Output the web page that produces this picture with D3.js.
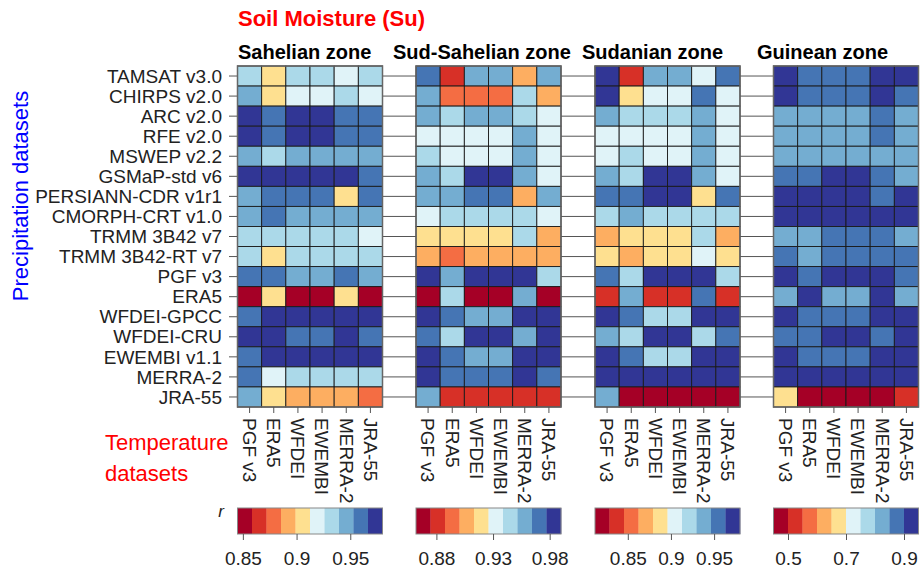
<!DOCTYPE html>
<html>
<head>
<meta charset="utf-8">
<script src="https://cdn.jsdelivr.net/npm/d3@7"></script>
<style>
  body { margin: 0; background: #fff; }
  svg { font-family: "Liberation Sans", Arial, sans-serif; }
</style>
</head>
<body>
<div id="chart"></div>
<script>
// Rows: precipitation datasets, columns: temperature datasets
const precipDatasets = ["TAMSAT v3.0", "CHIRPS v2.0", "ARC v2.0", "RFE v2.0", "MSWEP v2.2",
  "GSMaP-std v6", "PERSIANN-CDR v1r1", "CMORPH-CRT v1.0", "TRMM 3B42 v7", "TRMM 3B42-RT v7",
  "PGF v3", "ERA5", "WFDEI-GPCC", "WFDEI-CRU", "EWEMBI v1.1", "MERRA-2", "JRA-55"];
const tempDatasets = ["PGF v3", "ERA5", "WFDEI", "EWEMBI", "MERRA-2", "JRA-55"];
const zones = ["Sahelian zone", "Sud-Sahelian zone", "Sudanian zone", "Guinean zone"];

// correlation r, one row per precipitation dataset
const sahelian = [
  [0.933, 0.906, 0.933, 0.933, 0.919, 0.933],
  [0.946, 0.906, 0.919, 0.919, 0.933, 0.919],
  [0.973, 0.960, 0.973, 0.973, 0.960, 0.960],
  [0.973, 0.960, 0.973, 0.973, 0.960, 0.960],
  [0.946, 0.933, 0.946, 0.946, 0.946, 0.946],
  [0.973, 0.973, 0.973, 0.973, 0.973, 0.960],
  [0.946, 0.960, 0.960, 0.960, 0.906, 0.960],
  [0.946, 0.960, 0.946, 0.946, 0.946, 0.946],
  [0.933, 0.933, 0.933, 0.933, 0.933, 0.919],
  [0.933, 0.906, 0.933, 0.933, 0.933, 0.933],
  [0.960, 0.960, 0.946, 0.946, 0.960, 0.946],
  [0.852, 0.906, 0.852, 0.852, 0.906, 0.852],
  [0.960, 0.973, 0.973, 0.973, 0.973, 0.973],
  [0.973, 0.973, 0.960, 0.960, 0.973, 0.960],
  [0.960, 0.973, 0.973, 0.973, 0.973, 0.973],
  [0.960, 0.919, 0.933, 0.933, 0.933, 0.933],
  [0.946, 0.906, 0.892, 0.892, 0.892, 0.879]
];
const sudSahelian = [
  [0.971, 0.881, 0.958, 0.958, 0.907, 0.958],
  [0.958, 0.894, 0.894, 0.894, 0.945, 0.907],
  [0.958, 0.945, 0.958, 0.958, 0.945, 0.932],
  [0.932, 0.932, 0.932, 0.932, 0.958, 0.932],
  [0.945, 0.932, 0.932, 0.932, 0.958, 0.932],
  [0.958, 0.945, 0.984, 0.984, 0.958, 0.932],
  [0.958, 0.958, 0.971, 0.971, 0.907, 0.958],
  [0.932, 0.945, 0.945, 0.945, 0.945, 0.932],
  [0.920, 0.920, 0.920, 0.920, 0.945, 0.907],
  [0.907, 0.894, 0.907, 0.907, 0.907, 0.907],
  [0.984, 0.958, 0.984, 0.984, 0.984, 0.945],
  [0.868, 0.945, 0.868, 0.868, 0.958, 0.868],
  [0.984, 0.971, 0.958, 0.958, 0.984, 0.984],
  [0.971, 0.945, 0.984, 0.984, 0.958, 0.984],
  [0.984, 0.971, 0.958, 0.958, 0.984, 0.984],
  [0.984, 0.971, 0.971, 0.971, 0.984, 0.971],
  [0.958, 0.881, 0.881, 0.881, 0.881, 0.881]
];
const sudanian = [
  [0.972, 0.837, 0.938, 0.938, 0.904, 0.955],
  [0.972, 0.888, 0.904, 0.904, 0.955, 0.904],
  [0.938, 0.921, 0.921, 0.921, 0.938, 0.904],
  [0.904, 0.904, 0.904, 0.904, 0.938, 0.904],
  [0.904, 0.921, 0.904, 0.904, 0.938, 0.904],
  [0.938, 0.921, 0.972, 0.972, 0.938, 0.904],
  [0.955, 0.955, 0.972, 0.972, 0.888, 0.955],
  [0.921, 0.938, 0.921, 0.921, 0.921, 0.921],
  [0.871, 0.888, 0.888, 0.888, 0.921, 0.871],
  [0.888, 0.871, 0.888, 0.888, 0.904, 0.888],
  [0.955, 0.921, 0.972, 0.972, 0.972, 0.921],
  [0.837, 0.938, 0.837, 0.837, 0.955, 0.837],
  [0.972, 0.955, 0.921, 0.921, 0.972, 0.972],
  [0.938, 0.921, 0.972, 0.972, 0.921, 0.955],
  [0.972, 0.955, 0.921, 0.921, 0.972, 0.972],
  [0.972, 0.972, 0.972, 0.972, 0.972, 0.972],
  [0.938, 0.820, 0.820, 0.820, 0.820, 0.820]
];
const guinean = [
  [0.925, 0.875, 0.875, 0.875, 0.925, 0.925],
  [0.925, 0.875, 0.875, 0.875, 0.925, 0.875],
  [0.825, 0.825, 0.825, 0.825, 0.875, 0.825],
  [0.825, 0.825, 0.825, 0.825, 0.875, 0.825],
  [0.825, 0.825, 0.825, 0.825, 0.825, 0.825],
  [0.875, 0.875, 0.925, 0.925, 0.875, 0.825],
  [0.925, 0.925, 0.925, 0.925, 0.875, 0.925],
  [0.925, 0.925, 0.925, 0.925, 0.925, 0.925],
  [0.825, 0.825, 0.875, 0.875, 0.875, 0.825],
  [0.875, 0.825, 0.875, 0.875, 0.875, 0.875],
  [0.925, 0.875, 0.925, 0.925, 0.925, 0.875],
  [0.825, 0.925, 0.825, 0.825, 0.925, 0.825],
  [0.925, 0.875, 0.875, 0.875, 0.925, 0.925],
  [0.875, 0.875, 0.925, 0.925, 0.875, 0.925],
  [0.925, 0.875, 0.875, 0.875, 0.925, 0.925],
  [0.925, 0.925, 0.925, 0.925, 0.925, 0.925],
  [0.675, 0.475, 0.475, 0.475, 0.475, 0.525]
];
const zoneValues = [sahelian, sudSahelian, sudanian, guinean];

// colour bar range and ticks per zone
const colorDomains = [[0.845, 0.98], [0.862, 0.99], [0.812, 0.98], [0.45, 0.95]];
const colorTicks = [[0.85, 0.9, 0.95], [0.88, 0.93, 0.98], [0.85, 0.9, 0.95], [0.5, 0.7, 0.9]];
const palette = ["#a50026", "#d73027", "#f46d43", "#fdae61", "#fee090",
                 "#e0f3f8", "#abd9e9", "#74add1", "#4575b4", "#313695"];

const width = 920, height = 570;
const panelLeft = [237.5, 416, 595, 773.5],
      panelW = 145,
      plotTop = 66, plotBottom = 407;
const titleDx = [0.5, -23, -13, -16.5];

const svg = d3.select("#chart").append("svg")
    .attr("width", width)
    .attr("height", height);

const y = d3.scaleBand().domain(precipDatasets).range([plotTop, plotBottom]);
const x = d3.scaleBand().domain(tempDatasets).range([0, panelW]);

svg.append("text")
    .attr("x", 238).attr("y", 26)
    .attr("fill", "#f00")
    .attr("font-size", 22).attr("font-weight", "bold")
    .text("Soil Moisture (Su)");

// row labels + ticks on the left
svg.selectAll(".rowlab")
    .data(precipDatasets)
  .enter().append("text")
    .attr("x", 222)
    .attr("y", d => y(d) + y.bandwidth() / 2)
    .attr("dy", "0.35em")
    .attr("text-anchor", "end")
    .attr("font-size", 19)
    .attr("fill", "#222")
    .text(d => d);

svg.selectAll(".ltick")
    .data(precipDatasets)
  .enter().append("line")
    .attr("x1", 229).attr("x2", panelLeft[0])
    .attr("y1", d => y(d) + y.bandwidth() / 2)
    .attr("y2", d => y(d) + y.bandwidth() / 2)
    .attr("stroke", "#555");

// lines joining panels
for (let i = 0; i < 3; i++) {
  svg.selectAll(null)
      .data(precipDatasets)
    .enter().append("line")
      .attr("x1", panelLeft[i] + panelW).attr("x2", panelLeft[i + 1])
      .attr("y1", d => y(d) + y.bandwidth() / 2)
      .attr("y2", d => y(d) + y.bandwidth() / 2)
      .attr("stroke", "#555");
}

svg.append("text")
    .attr("transform", "translate(28,196) rotate(-90)")
    .attr("text-anchor", "middle")
    .attr("fill", "#00f")
    .attr("font-size", 22)
    .text("Precipitation datasets");

svg.append("text")
    .attr("x", 105).attr("y", 450)
    .attr("fill", "#f00").attr("font-size", 22)
    .text("Temperature");
svg.append("text")
    .attr("x", 105).attr("y", 481)
    .attr("fill", "#f00").attr("font-size", 22)
    .text("datasets");

svg.append("text")
    .attr("x", 224).attr("y", 517)
    .attr("text-anchor", "end")
    .attr("font-style", "italic")
    .attr("font-size", 17)
    .attr("fill", "#222")
    .text("r");

zones.forEach((zone, i) => {
  const g = svg.append("g").attr("transform", `translate(${panelLeft[i]},0)`);
  const color = d3.scaleQuantize().domain(colorDomains[i]).range(palette);
  const cells = [];
  zoneValues[i].forEach((row, r) => row.forEach((v, c) =>
    cells.push({row: precipDatasets[r], col: tempDatasets[c], value: v})));

  g.append("text")
      .attr("x", titleDx[i]).attr("y", 59)
      .attr("font-size", 20).attr("font-weight", "bold")
      .attr("fill", "#000")
      .text(zone);

  g.selectAll("rect.cell")
      .data(cells)
    .enter().append("rect")
      .attr("class", "cell")
      .attr("x", d => x(d.col))
      .attr("y", d => y(d.row))
      .attr("width", x.bandwidth())
      .attr("height", y.bandwidth())
      .attr("fill", d => color(d.value))
      .attr("stroke", "#1a1a1a")
      .attr("stroke-width", 0.9);

  g.append("rect")
      .attr("x", 0).attr("y", plotTop)
      .attr("width", panelW).attr("height", plotBottom - plotTop)
      .attr("fill", "none")
      .attr("stroke", "#666")
      .attr("stroke-width", 1.5);

  // column ticks and labels
  g.selectAll(".btick")
      .data(tempDatasets)
    .enter().append("line")
      .attr("x1", d => x(d) + x.bandwidth() / 2)
      .attr("x2", d => x(d) + x.bandwidth() / 2)
      .attr("y1", plotBottom).attr("y2", plotBottom + 6)
      .attr("stroke", "#555");

  g.selectAll(".collab")
      .data(tempDatasets)
    .enter().append("text")
      .attr("transform", d => `translate(${x(d) + x.bandwidth() / 2},418) rotate(90)`)
      .attr("dy", "0.35em")
      .attr("font-size", 19)
      .attr("fill", "#222")
      .text(d => d);

  // colour bar
  const cb = d3.scaleLinear().domain(colorDomains[i]).range([0, panelW]);
  const edges = [colorDomains[i][0], ...color.thresholds(), colorDomains[i][1]];
  g.selectAll(".bin")
      .data(palette)
    .enter().append("rect")
      .attr("x", (d, k) => cb(edges[k]))
      .attr("width", (d, k) => cb(edges[k + 1]) - cb(edges[k]) + 0.3)
      .attr("y", 508).attr("height", 26)
      .attr("fill", d => d);
  g.append("rect")
      .attr("x", 0).attr("y", 508)
      .attr("width", panelW).attr("height", 26)
      .attr("fill", "none").attr("stroke", "#888");

  const axis = g.append("g")
      .attr("transform", "translate(0,534)")
      .call(d3.axisBottom(cb).tickValues(colorTicks[i]).tickSize(6).tickPadding(12)
        .tickFormat(d => String(d)));
  axis.select(".domain").remove();
  axis.selectAll("line").attr("stroke", "#555");
  axis.selectAll("text")
      .attr("font-size", 19)
      .attr("fill", "#222")
      .attr("font-family", "'Liberation Sans', Arial, sans-serif");
});
</script>
</body>
</html>
